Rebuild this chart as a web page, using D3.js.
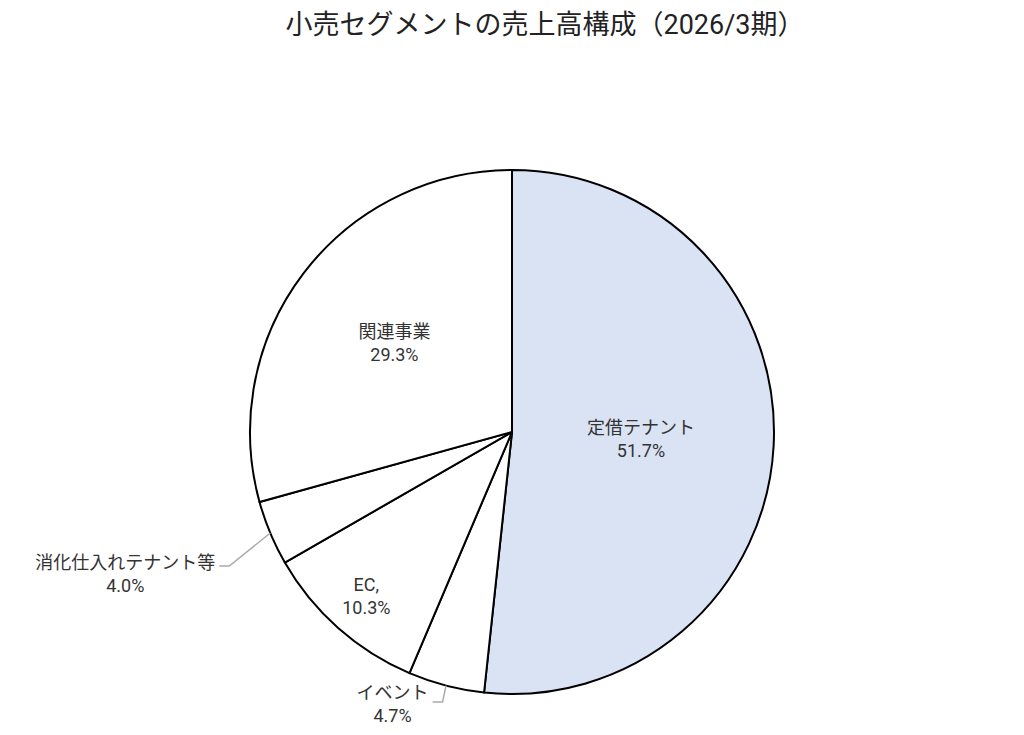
<!DOCTYPE html>
<html>
<head>
<meta charset="utf-8">
<script src="https://cdn.jsdelivr.net/npm/d3@7"></script>
<style>
  body { margin: 0; background: #fff; }
  text { font-family: Roboto, "Noto Sans CJK JP", sans-serif; }
</style>
</head>
<body>
<svg id="chart"></svg>
<script>
// data
const categories = ["定借テナント", "イベント", "EC,", "消化仕入れテナント等", "関連事業"];
const shares = [51.7, 4.7, 10.3, 4.0, 29.3];
const chartTitle = "小売セグメントの売上高構成（2026/3期）";

let width = 1024;
let height = 735;
let cx = 512, cy = 432, radius = 262;
let lineGap = 23;

let svg = d3.select("#chart")
    .attr("width", width)
    .attr("height", height);

let rows = categories.map((c, i) => ({ name: c, value: shares[i] }));

let color = d3.scaleOrdinal()
    .domain(categories)
    .range(["#dae3f3", "#ffffff", "#ffffff", "#ffffff", "#ffffff"]);

let pie = d3.pie().sort(null).value(d => d.value);
let arc = d3.arc().innerRadius(0).outerRadius(radius);
let edgeArc = d3.arc().innerRadius(radius).outerRadius(radius);
let fmt = v => d3.format(".1f")(v) + "%";

// where each label goes
let labelLayout = {
    "定借テナント": { inside: true, k: 0.493 },
    "関連事業": { inside: true, k: 0.564 },
    "EC,": { inside: true, k: 0.838 },
    "消化仕入れテナント等": { inside: false, elbow: [-41, 33], run: 10, dy: -4 },
    "イベント": { inside: false, elbow: [-3.5, 16.5], run: 10, dy: -10 }
};

svg.append("text")
    .attr("x", 545)
    .attr("y", 34)
    .attr("text-anchor", "middle")
    .style("font-size", "27px")
    .style("fill", "#222")
    .text(chartTitle);

let g = svg.append("g").attr("transform", `translate(${cx},${cy})`);
let arcs = pie(rows);

g.selectAll("path.slice")
    .data(arcs)
    .enter().append("path")
    .attr("class", "slice")
    .attr("d", arc)
    .style("fill", d => color(d.data.name))
    .style("stroke", "#000")
    .style("stroke-width", 2)
    .style("stroke-linejoin", "round");

function addLabel(x, y1, d) {
    let t = g.append("text")
        .attr("text-anchor", "middle")
        .style("font-size", "18px")
        .style("fill", "#333");
    t.append("tspan").attr("x", x).attr("y", y1 + 6.5).text(d.data.name);
    t.append("tspan").attr("x", x).attr("y", y1 + lineGap + 6.5).text(fmt(d.data.value));
    return t;
}

arcs.forEach(function(d) {
    let lay = labelLayout[d.data.name];
    if (lay.inside) {
        let p = d3.arc().innerRadius(radius * lay.k).outerRadius(radius * lay.k).centroid(d);
        addLabel(p[0], p[1] - lineGap / 2, d);
    } else {
        let e = edgeArc.centroid(d);
        let elbow = [e[0] + lay.elbow[0], e[1] + lay.elbow[1]];
        let end = [elbow[0] - lay.run, elbow[1]];
        g.append("path")
            .attr("d", d3.line()([e, elbow, end]))
            .style("fill", "none")
            .style("stroke", "#aaa")
            .style("stroke-width", 1.5);
        let t = addLabel(0, elbow[1] + lay.dy, d);
        let w = d3.max(t.selectAll("tspan").nodes(), n => n.getComputedTextLength());
        t.selectAll("tspan").attr("x", end[0] - 4 - w / 2);
    }
});
</script>
</body>
</html>
